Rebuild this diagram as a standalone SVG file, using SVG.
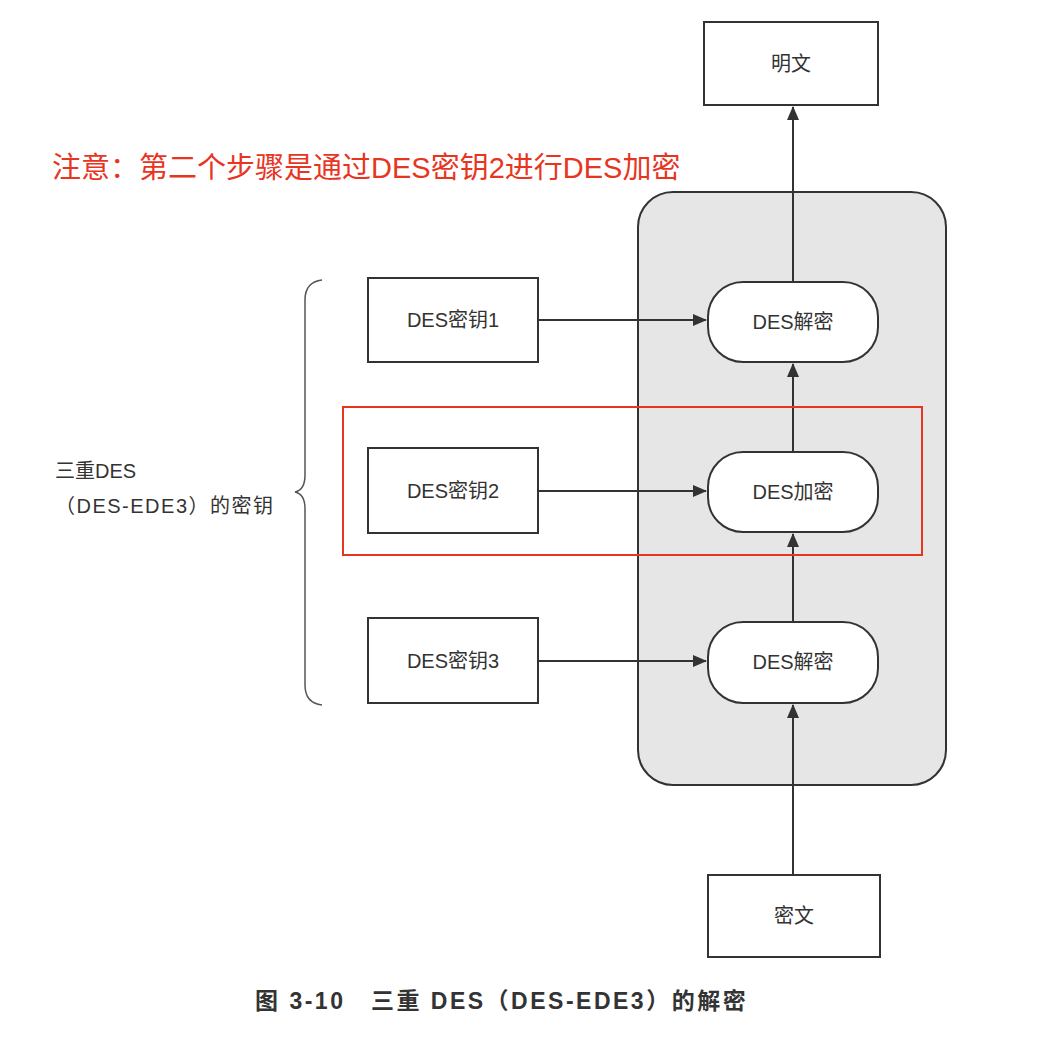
<svg xmlns="http://www.w3.org/2000/svg" width="1056" height="1040" viewBox="0 0 1056 1040">
<style>
.t{font-family:"Liberation Sans","Noto Sans CJK SC",sans-serif;font-size:20px;fill:#333;text-anchor:middle}
.b{fill:#fff;stroke:#333;stroke-width:2}
.c{stroke:#333;stroke-width:2;fill:none}
</style>
<defs><marker id="a" markerWidth="14" markerHeight="12" refX="13" refY="6" orient="auto" markerUnits="userSpaceOnUse"><path d="M0,0L14,6L0,12z" fill="#333"/></marker></defs>
<rect width="1056" height="1040" fill="#fff"/>
<g id="group"><rect x="638" y="192" width="308" height="593" rx="35" fill="#e6e6e6" stroke="#333" stroke-width="2"/></g>
<g id="plain"><rect class="b" x="704" y="22" width="174" height="83"/><text class="t" x="791" y="71">明文</text></g>
<g id="cipher"><rect class="b" x="708" y="875" width="172" height="82"/><text class="t" x="794" y="923">密文</text></g>
<g id="d1"><rect class="b" x="708" y="282" width="170" height="80" rx="35"/><text class="t" x="793" y="329">DES解密</text></g>
<g id="e2"><rect class="b" x="708" y="452" width="170" height="80" rx="35"/><text class="t" x="793" y="499">DES加密</text></g>
<g id="d3"><rect class="b" x="708" y="622" width="170" height="81" rx="35"/><text class="t" x="793" y="669">DES解密</text></g>
<g id="k1"><rect class="b" x="368" y="278" width="170" height="84"/><text class="t" x="453" y="327">DES密钥1</text></g>
<g id="k2"><rect class="b" x="368" y="448" width="170" height="85"/><text class="t" x="453" y="498">DES密钥2</text></g>
<g id="k3"><rect class="b" x="368" y="618" width="170" height="85"/><text class="t" x="453" y="668">DES密钥3</text></g>
<g id="connectors">
<path class="c" d="M538,320H706" marker-end="url(#a)"/>
<path class="c" d="M538,491H706" marker-end="url(#a)"/>
<path class="c" d="M538,661H706" marker-end="url(#a)"/>
<path class="c" d="M793,875V705" marker-end="url(#a)"/>
<path class="c" d="M793,622V534" marker-end="url(#a)"/>
<path class="c" d="M793,452V364" marker-end="url(#a)"/>
<path class="c" d="M793,282V107" marker-end="url(#a)"/>
</g>
<g id="brace"><path d="M322,280Q305,282 305,300V475Q305,490 295,492Q305,494 305,509V685Q305,703 322,705" fill="none" stroke="#555" stroke-width="1.5"/>
<text class="t" x="55" y="478" style="text-anchor:start">三重DES</text>
<text class="t" x="55" y="513" style="text-anchor:start;letter-spacing:1.5px">（DES-EDE3）的密钥</text></g>
<g id="note"><text x="52" y="178" style="font-family:'Liberation Sans','Noto Sans CJK SC',sans-serif;font-size:29px;fill:#e8351f">注意：第二个步骤是通过DES密钥2进行DES加密</text>
<rect x="343" y="407" width="579" height="148" fill="none" stroke="#e8351f" stroke-width="2"/></g>
<text x="255" y="1009" style="font-family:'Liberation Sans','Noto Sans CJK SC',sans-serif;font-size:23px;font-weight:bold;fill:#333;letter-spacing:2.5px">图 3-10　三重 DES（DES-EDE3）的解密</text>
</svg>
